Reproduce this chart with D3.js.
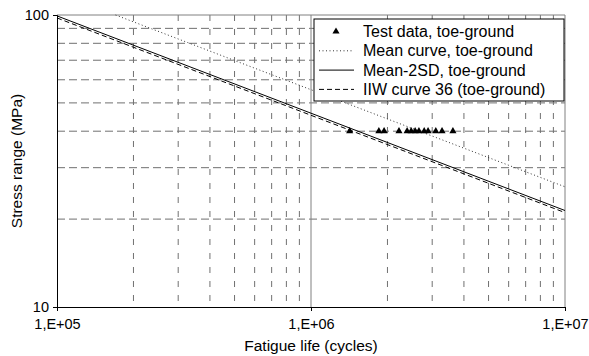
<!DOCTYPE html>
<html>
<head>
<meta charset="utf-8">
<script src="https://cdn.jsdelivr.net/npm/d3@7"></script>
<style>
body { margin: 0; background: #fff; }
svg { font-family: Arial, "Liberation Sans", sans-serif; }
</style>
</head>
<body>
<svg width="589" height="356"></svg>
<script>
// test data, toe-ground (cycles, MPa)
var testCycles = [1.42e6, 1.85e6, 1.94e6, 2.22e6, 2.39e6, 2.48e6, 2.57e6, 2.66e6, 2.79e6, 2.89e6, 3.1e6, 3.28e6, 3.62e6];
var testStress = [40, 40, 40, 40, 40, 40, 40, 40, 40, 40, 40, 40, 40];

// S-N curves: [cycles, stress] at both ends
var meanCurve = [[1.7e5, 100], [1e7, 25.8]];
var mean2sd = [[1e5, 99.3], [1e7, 21.4]];
var iiw36 = [[1e5, 97.7], [1e7, 21.05]];

var xTicks = [1e5, 1e6, 1e7];
var yTicks = [10, 100];
var xMinor = [2e5, 3e5, 4e5, 5e5, 6e5, 7e5, 8e5, 9e5, 2e6, 3e6, 4e6, 5e6, 6e6, 7e6, 8e6, 9e6];
var yMinor = [20, 30, 40, 50, 60, 70, 80, 90];

var legendNames = ['Test data, toe-ground', 'Mean curve, toe-ground', 'Mean-2SD, toe-ground', 'IIW curve 36 (toe-ground)'];

var svg = d3.select('svg'),
	margin = {top: 15, right: 24, bottom: 49, left: 57},
	width = +svg.attr('width') - margin.left - margin.right,
	height = +svg.attr('height') - margin.top - margin.bottom,
	g = svg.append('g').attr('transform', 'translate(' + margin.left + ',' + margin.top + ')');

var x = d3.scaleLog().domain([1e5, 1e7]).range([0, width]);
var y = d3.scaleLog().domain([10, 100]).range([height, 0]);

// grid
g.selectAll('.hgrid')
	.data(yMinor)
	.enter().append('line')
	.attr('x1', 0).attr('x2', width)
	.attr('y1', function(d){ return y(d); })
	.attr('y2', function(d){ return y(d); })
	.attr('stroke', '#707070')
	.attr('stroke-dasharray', '8,4');

g.selectAll('.vgrid')
	.data(xMinor)
	.enter().append('line')
	.attr('y1', 0).attr('y2', height)
	.attr('x1', function(d){ return x(d); })
	.attr('x2', function(d){ return x(d); })
	.attr('stroke', '#707070')
	.attr('stroke-dasharray', '6,8');

g.append('line')
	.attr('x1', x(1e6)).attr('x2', x(1e6))
	.attr('y1', 0).attr('y2', height)
	.attr('stroke', '#808080');

// border top / right
g.append('path')
	.attr('d', 'M0,0H' + width + 'V' + height)
	.attr('fill', 'none')
	.attr('stroke', '#808080');

// curves
var line = d3.line()
	.x(function(d){ return x(d[0]); })
	.y(function(d){ return y(d[1]); });

g.append('path').datum(meanCurve)
	.attr('d', line).attr('fill', 'none')
	.attr('stroke', '#333').attr('stroke-dasharray', '1,2.5');

g.append('path').datum(iiw36)
	.attr('d', line).attr('fill', 'none')
	.attr('stroke', '#000').attr('stroke-dasharray', '5,3');

g.append('path').datum(mean2sd)
	.attr('d', line).attr('fill', 'none')
	.attr('stroke', '#000');

// test data
var tri = d3.symbol().type(d3.symbolTriangle).size(22);
g.selectAll('.pt')
	.data(testCycles)
	.enter().append('path')
	.attr('d', tri)
	.attr('transform', function(d, i){ return 'translate(' + x(d) + ',' + y(testStress[i]) + ')'; })
	.attr('fill', '#000');

// axes
var xAxis = g.append('g')
	.attr('transform', 'translate(0,' + height + ')')
	.call(d3.axisBottom(x).tickValues(xTicks).tickSize(4).tickPadding(8)
		.tickFormat(function(d){ return '1,E+0' + Math.round(Math.log10(d)); }));
var yAxis = g.append('g')
	.call(d3.axisLeft(y).tickValues(yTicks).tickSize(4).tickPadding(4)
		.tickFormat(d3.format('d')));

[xAxis, yAxis].forEach(function(a){
	a.select('.domain').attr('stroke', '#000');
	a.selectAll('text').attr('font-size', 14.5).attr('fill', '#000').attr('font-family', 'Arial, "Liberation Sans", sans-serif');
});

svg.append('text')
	.attr('x', margin.left + width / 2)
	.attr('y', 351)
	.attr('text-anchor', 'middle')
	.attr('font-size', 15.5)
	.text('Fatigue life (cycles)');

svg.append('text')
	.attr('transform', 'translate(22,' + (margin.top + height / 2) + ') rotate(-90)')
	.attr('text-anchor', 'middle')
	.attr('font-size', 15.5)
	.text('Stress range (MPa)');

// legend
var lg = g.append('g').attr('transform', 'translate(' + (width - 251) + ',4)');
lg.append('rect')
	.attr('width', 250).attr('height', 82)
	.attr('fill', '#fff').attr('stroke', '#000');

var rows = lg.selectAll('.row')
	.data(legendNames)
	.enter().append('g')
	.attr('transform', function(d, i){ return 'translate(0,' + (12.5 + i * 19.3) + ')'; });

rows.append('text')
	.attr('x', 49)
	.attr('dy', '0.35em')
	.attr('font-size', 16)
	.text(function(d){ return d; });

rows.each(function(d, i){
	var r = d3.select(this);
	if(i === 0){
		r.append('path').attr('d', tri).attr('transform', 'translate(22,0)').attr('fill', '#000');
	} else {
		var dash = [null, '1,2.5', null, '5,3'][i];
		r.append('line')
			.attr('x1', 5).attr('x2', 40)
			.attr('stroke', i === 1 ? '#333' : '#000')
			.attr('stroke-dasharray', dash);
	}
});
</script>
</body>
</html>
